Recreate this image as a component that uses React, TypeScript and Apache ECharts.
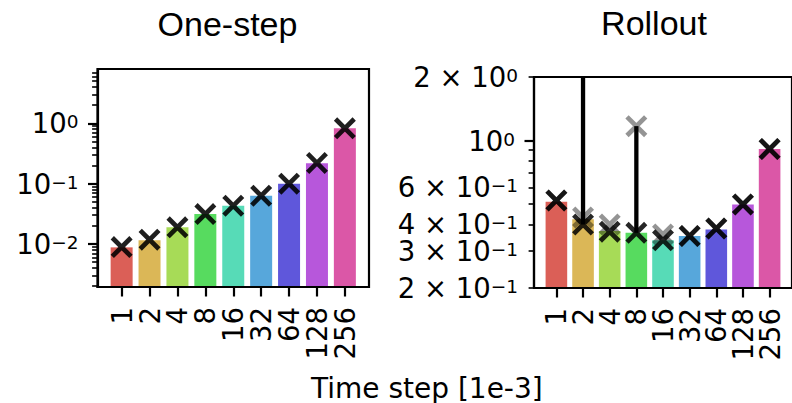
import React, { useEffect, useRef } from "react";
import * as echarts from "echarts";

const categories = ["1", "2", "4", "8", "16", "32", "64", "128", "256"];
const barColors = ["#db5f57", "#dbb757", "#a7db57", "#57db5f", "#57dbb7", "#57a7db", "#5f57db", "#b757db", "#db57a7"];

// One-step panel
const oneStepBars = [0.0088, 0.0116, 0.0189, 0.0314, 0.0431, 0.063, 0.1, 0.217, 0.826];
const oneStepMarks = [0.0089, 0.0118, 0.0189, 0.0313, 0.0431, 0.063, 0.1, 0.22, 0.826];

// Rollout panel
const rolloutBars = [0.513, 0.423, 0.373, 0.365, 0.337, 0.353, 0.379, 0.498, 0.912];
const rolloutMarksDark = [0.52, 0.4, 0.37, 0.365, 0.337, 0.353, 0.383, 0.498, 0.912];
const rolloutMarksLight = [0.52, 0.432, 0.4, 1.17, 0.359, 0.353, 0.383, 0.498, 0.912];
const errIndex = [1, 3];
const errLow = [0.4, 0.365];
const errHigh = [3.0, 1.17];

// Axis ticks
const oneStepMajor = [0.01, 0.1, 1];
const oneStepMinor = [
  0.002, 0.003, 0.004, 0.005, 0.006, 0.007, 0.008, 0.009,
  0.02, 0.03, 0.04, 0.05, 0.06, 0.07, 0.08, 0.09,
  0.2, 0.3, 0.4, 0.5, 0.6, 0.7, 0.8, 0.9,
  2, 3, 4, 5, 6, 7,
];
const oneStepLabelValues = [0.01, 0.1, 1];
const oneStepLabelMant = ["", "", ""];
const oneStepLabelExp = ["−2", "−1", "0"];
const oneStepLabelMajor = [false, false, false];

const rolloutMajor = [1];
const rolloutMinor = [0.2, 0.3, 0.4, 0.5, 0.6, 0.7, 0.8, 0.9, 2];
const rolloutLabelValues = [0.2, 0.3, 0.4, 0.6, 1, 2];
const rolloutLabelMant = ["2", "3", "4", "6", "", "2"];
const rolloutLabelExp = ["−1", "−1", "−1", "−1", "0", "0"];
const rolloutLabelMajor = [false, false, false, false, true, false];

const xTickValues = [0, 1, 2, 3, 4, 5, 6, 7, 8];
const xLabelsEven = [0, 2, 4, 6, 8];
const xLabelsOdd = [1, 3, 5, 7];

const FONT = "DejaVu Sans";
const XPATH =
  "path://M1.77,-1.77L21.77,18.23L18.23,21.77L-1.77,1.77ZM1.77,21.77L-1.77,18.23L18.23,-1.77L21.77,1.77Z";

function makeFormatter(values: number[], mant: string[], exp: string[], shift: boolean[]) {
  return (v: number) => {
    const i = values.findIndex((t) => Math.abs(t - v) / t < 1e-6);
    if (i < 0) return "";
    const sup = shift[i] ? "t" : "s";
    return mant[i] ? `{b|${mant[i]} × 10}{${sup}|${exp[i]}}` : `{b|10}{${sup}|${exp[i]}}`;
  };
}

const rich = {
  b: { fontFamily: FONT, fontSize: 27.5, lineHeight: 22, color: "#000" },
  s: { fontFamily: FONT, fontSize: 18.5, lineHeight: 8, verticalAlign: "top", color: "#000" },
  t: { fontFamily: FONT, fontSize: 18.5, lineHeight: 8, verticalAlign: "top", color: "#000", padding: [0, 3, 0, 0] },
};

function xAxesFor(gridIndex: number, min: number, max: number) {
  const labelBase = {
    show: true,
    rotate: 90,
    margin: 20,
    fontFamily: FONT,
    fontSize: 27.5,
    color: "#000",
    showMinLabel: true,
    showMaxLabel: true,
    hideOverlap: false,
    formatter: (v: number) => categories[Math.round(v)],
  };
  return [
    {
      type: "value",
      gridIndex,
      min,
      max,
      position: "bottom",
      offset: 0,
      z: 5,
      splitLine: { show: false },
      axisLine: { show: true, onZero: false, lineStyle: { color: "#000", width: 2.2 } },
      axisTick: { show: true, customValues: xTickValues, length: 9.5, lineStyle: { color: "#000", width: 2.2 } },
      axisLabel: { ...labelBase, customValues: xLabelsEven },
    },
    {
      type: "value",
      gridIndex,
      min,
      max,
      position: "bottom",
      offset: 0,
      z: 5,
      splitLine: { show: false },
      axisLine: { show: false, onZero: false },
      axisTick: { show: false },
      axisLabel: { ...labelBase, customValues: xLabelsOdd },
    },
  ];
}

function yAxesFor(
  gridIndex: number,
  min: number,
  max: number,
  major: number[],
  minor: number[],
  labelValues: number[],
  mant: string[],
  exp: string[],
  shift: boolean[],
  margin: number
) {
  return [
    {
      type: "log",
      logBase: 10,
      gridIndex,
      min,
      max,
      startValue: min,
      position: "left",
      offset: 0,
      z: 5,
      splitLine: { show: false },
      minorTick: { show: false },
      axisLine: { show: true, onZero: false, lineStyle: { color: "#000", width: 2.2 } },
      axisTick: { show: true, customValues: major, length: 9.5, lineStyle: { color: "#000", width: 2.2 } },
      axisLabel: {
        show: true,
        customValues: labelValues,
        margin,
        showMinLabel: true,
        showMaxLabel: true,
        hideOverlap: false,
        formatter: makeFormatter(labelValues, mant, exp, shift),
        rich,
      },
    },
    {
      type: "log",
      logBase: 10,
      gridIndex,
      min,
      max,
      position: "left",
      offset: 0,
      z: 5,
      splitLine: { show: false },
      axisLine: { show: false, onZero: false },
      axisTick: { show: true, customValues: minor, length: 5.4, lineStyle: { color: "#000", width: 1.6 } },
      axisLabel: { show: false },
    },
  ];
}

export default function App() {
  const ref = useRef<HTMLDivElement>(null);

  useEffect(() => {
    if (!ref.current) return;
    const chart = echarts.init(ref.current, null, { renderer: "svg" });

    const markerStyle = (opacity: number) => ({ color: "#000", opacity });

    const option: any = {
      animation: false,
      backgroundColor: "#fff",
      grid: [
        { left: 97.5, top: 69, width: 271.5, height: 218, show: true, borderColor: "#000", borderWidth: 2.2, backgroundColor: "transparent" },
        { left: 534, top: 77, width: 261.4, height: 211, show: true, borderColor: "#000", borderWidth: 2.2, backgroundColor: "transparent" },
      ],
      xAxis: [...xAxesFor(0, -0.865, 8.865), ...xAxesFor(1, -0.84, 8.84)],
      yAxis: [
        ...yAxesFor(0, 0.00194, 7.94, oneStepMajor, oneStepMinor, oneStepLabelValues, oneStepLabelMant, oneStepLabelExp, oneStepLabelMajor, 19),
        ...yAxesFor(1, 0.199999, 2.000001, rolloutMajor, rolloutMinor, rolloutLabelValues, rolloutLabelMant, rolloutLabelExp, rolloutLabelMajor, 16),
      ],
      graphic: [
        { type: "text", x: 227.5, y: 23.5, style: { text: "One-step", fontFamily: "Liberation Sans", fontSize: 34, fill: "#000", align: "center", verticalAlign: "middle" } },
        { type: "text", x: 654, y: 23, style: { text: "Rollout", fontFamily: "Liberation Sans", fontSize: 34, fill: "#000", align: "center", verticalAlign: "middle" } },
        { type: "text", x: 311, y: 388, style: { text: "Time step [1e-3]", fontFamily: FONT, fontSize: 28, fill: "#000", align: "left", verticalAlign: "middle" } },
      ],
      series: [
        {
          type: "bar",
          xAxisIndex: 0,
          yAxisIndex: 0,
          barWidth: 22,
          data: oneStepBars.map((v, i) => ({ value: [i, v], itemStyle: { color: barColors[i] } })),
        },
        {
          type: "scatter",
          xAxisIndex: 0,
          yAxisIndex: 0,
          symbol: XPATH,
          symbolSize: 22,
          z: 4,
          itemStyle: markerStyle(0.88),
          data: oneStepMarks.map((v, i) => [i, v]),
        },
        {
          type: "bar",
          xAxisIndex: 2,
          yAxisIndex: 2,
          barWidth: 21.6,
          data: rolloutBars.map((v, i) => ({ value: [i, v], itemStyle: { color: barColors[i] } })),
        },
        {
          type: "custom",
          xAxisIndex: 2,
          yAxisIndex: 2,
          z: 3,
          encode: { x: 0, y: [1, 2] },
          data: errIndex.map((idx, k) => [idx, errLow[k], errHigh[k]]),
          renderItem: (params: any, api: any) => {
            const x = api.value(0);
            const p1 = api.coord([x, api.value(1)]);
            const p2 = api.coord([x, api.value(2)]);
            const top = params.coordSys.y;
            return {
              type: "line",
              shape: { x1: p1[0], y1: p1[1], x2: p2[0], y2: Math.max(p2[1], top) },
              style: { stroke: "#000", lineWidth: 4.3 },
            };
          },
        },
        {
          type: "scatter",
          xAxisIndex: 2,
          yAxisIndex: 2,
          symbol: XPATH,
          symbolSize: 22,
          z: 4,
          itemStyle: markerStyle(0.42),
          data: rolloutMarksLight.map((v, i) => [i, v]),
        },
        {
          type: "scatter",
          xAxisIndex: 2,
          yAxisIndex: 2,
          symbol: XPATH,
          symbolSize: 22,
          z: 4,
          itemStyle: markerStyle(0.85),
          data: rolloutMarksDark.map((v, i) => [i, v]),
        },
      ],
    };

    chart.setOption(option);
    return () => chart.dispose();
  }, []);

  return (
    <div
      ref={ref}
      style={{ position: "absolute", left: 0, top: 0, width: 792, height: 403, background: "#fff" }}
    />
  );
}
